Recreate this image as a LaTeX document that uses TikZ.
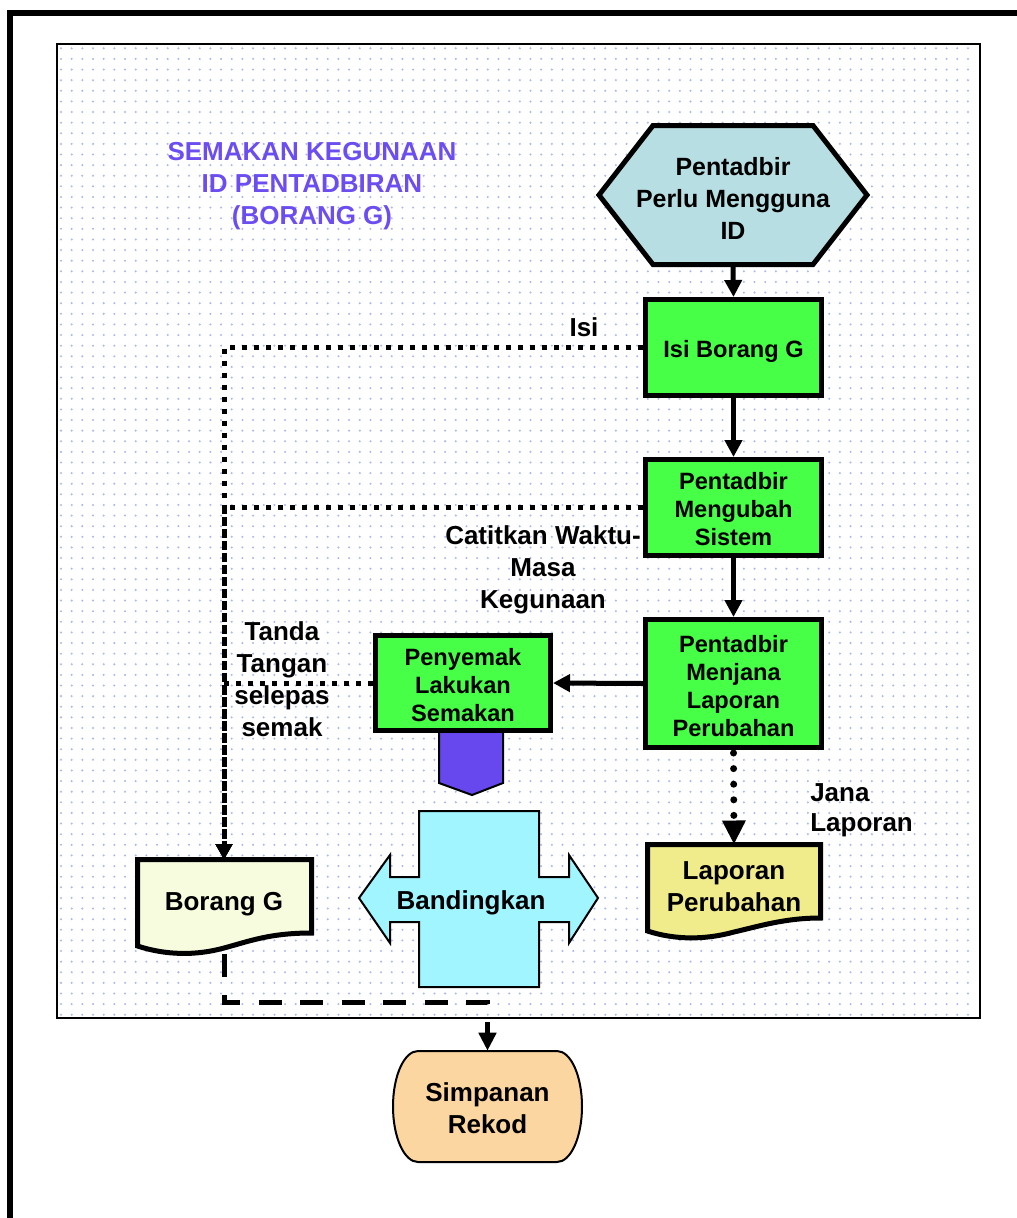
\documentclass[tikz,border=0pt]{standalone}
\usepackage{fontspec}
\setmainfont{Liberation Sans}
\usetikzlibrary{arrows.meta}
\pgfdeclarelayer{bg}
\pgfdeclarelayer{conn}
\pgfsetlayers{bg,conn,main}
\definecolor{gfill}{RGB}{70,255,70}
\definecolor{hexc}{RGB}{183,222,226}
\definecolor{purpc}{RGB}{102,72,238}
\definecolor{cyanc}{RGB}{160,245,255}
\definecolor{creamc}{RGB}{248,252,222}
\definecolor{yelc}{RGB}{240,236,140}
\definecolor{orc}{RGB}{252,214,160}
\definecolor{titlec}{RGB}{108,78,240}
\definecolor{dotc}{RGB}{172,184,232}
\newcommand\myBig{\fontsize{19.5}{24}\selectfont\bfseries}
\newcommand\myHex{\fontsize{18.7}{24}\selectfont\bfseries}
\newcommand\myBox{\fontsize{17.7}{21}\selectfont\bfseries}
\newcommand\myJana{\fontsize{19.5}{22.5}\selectfont\bfseries}
\tikzset{
  gbox/.style={draw, line width=3.75pt, fill=gfill, minimum width=132pt, inner sep=0pt},
  boxtext/.style={font=\myBox, align=center, inner sep=0pt, yshift=-1.5pt},
  txt/.style={font=\myBig, align=center, inner sep=0pt},
  conn/.style={line width=3.75pt, -{Triangle[length=12.75pt,width=12.75pt]}},
  sqdot/.style={line width=3.75pt, dash pattern=on 3.75pt off 5.25pt, -{Triangle[length=11.5pt,width=12pt]}},
  rdot/.style={line width=5.25pt, line cap=round, dash pattern=on 0pt off 11.7pt, shorten <=2.25pt, -{Triangle[length=18pt,width=16.5pt]}},
  dashconn/.style={line width=3.75pt, dash pattern=on 17.25pt off 13.875pt, shorten <=3.4pt, -{Triangle[length=13.5pt,width=12.75pt]}},
  thinb/.style={draw=black, line width=1.5pt, line join=miter},
  thickb/.style={draw=black, line width=3.75pt, line join=miter}
}
\begin{document}
\begin{tikzpicture}[x=0.75pt,y=-0.75pt]
\useasboundingbox (0,0) rectangle (1017,1218);
\begin{pgfonlayer}{bg}
  \fill[white] (0,0) rectangle (1017,1218);
  \foreach \j in {0,...,91} {
    \fill[dotc] \foreach \i in {0,...,85} {(61+\i*10.67, 48.3+\j*10.62) circle (0.85pt)};
  }
  \draw[line width=1.5pt] (57,44) rectangle (980,1018);
\end{pgfonlayer}
% outer frame
\draw[line width=4.5pt, line join=miter] (10,1218) -- (10,13) -- (1017,13);

% title
\node[txt, text=titlec] (title) at (312,186) {SEMAKAN KEGUNAAN\\ID PENTADBIRAN\\(BORANG G)};

% hexagon
\draw[thickb, fill=hexc] (599,195) -- (653,125.5) -- (813,125.5) -- (867,195) -- (813,264.5) -- (653,264.5) -- cycle;
\node[font=\myHex, align=center, inner sep=0pt, minimum height=99.75pt] (hex) at (733,198) {Pentadbir\\Perlu Mengguna\\ID};

% green boxes
\node[gbox, minimum height=72pt, label={[boxtext, yshift=-1.5pt]center:{Isi Borang G}}] (b1) at (733.5,347.5) {};
\node[gbox, minimum height=72pt, label={[boxtext]center:{Pentadbir\\Mengubah\\Sistem}}] (b2) at (733.5,507.5) {};
\node[gbox, minimum height=96pt, label={[boxtext, yshift=-0.4pt]center:{Pentadbir\\Menjana\\Laporan\\Perubahan}}] (b3) at (733.5,683.5) {};

% purple off-page marker under Penyemak
\draw[thinb, fill=purpc] (439,728) -- (503,728) -- (503,783) -- (472,795) -- (439,783) -- cycle;
\node[gbox, minimum width=131.25pt, minimum height=71.25pt, label={[boxtext]center:{Penyemak\\Lakukan\\Semakan}}] (peny) at (463,683) {};

% compare cross
\draw[thinb, fill=cyanc] (419,811) -- (539,811) -- (539,877) -- (569,877) -- (569,855) -- (598,898) -- (569,943) -- (569,922) -- (539,922) -- (539,987) -- (419,987) -- (419,922) -- (390,922) -- (390,943) -- (359,898) -- (390,855) -- (390,877) -- (419,877) -- cycle;
\node[txt] (cmp) at (471,903) {Bandingkan};

% Borang G document
\draw[thickb, fill=creamc] (137.5,946) -- (137.5,859.5) -- (311.5,859.5) -- (311.5,933) .. controls (270,933) and (250,941) .. (224,948) .. controls (195,956) and (165,955) .. (137.5,946) -- cycle;
\node[txt, minimum height=66.75pt, anchor=north] (borang) at (224,859.5) {Borang G};

% Laporan Perubahan document
\draw[thickb, fill=yelc] (647.5,931) -- (647.5,844.5) -- (820.5,844.5) -- (820.5,918) .. controls (785,918) and (760,926) .. (734,932) .. controls (705,940) and (675,940) .. (647.5,931) -- cycle;
\node[txt, minimum height=62.25pt, anchor=north] (laporan) at (734,844.5) {Laporan\\Perubahan};

% Simpanan Rekod
\draw[draw=black, line width=1.5pt, fill=orc] (418,1051) -- (557,1051) .. controls (570.8,1051) and (582,1075.85) .. (582,1106.5) .. controls (582,1137.15) and (570.8,1162) .. (557,1162) -- (418,1162) .. controls (404.2,1162) and (393,1137.15) .. (393,1106.5) .. controls (393,1075.85) and (404.2,1051) .. (418,1051) -- cycle;
\node[txt, minimum height=86.25pt] (simp) at (487.5,1108.5) {Simpanan\\Rekod};

% labels
\node[txt] (lIsi) at (584,327) {Isi};
\node[txt] (lCat) at (543,570) {Catitkan Waktu-\\Masa\\Kegunaan};
\node[txt] (lTanda) at (282,679) {Tanda\\Tangan\\selepas\\semak};
\node[font=\myJana, align=left, inner sep=0pt, anchor=west] (lJana) at (810,810) {Jana\\Laporan};

% connectors
\coordinate (dc) at (487.5,1002);
\begin{pgfonlayer}{conn}
  \draw[conn] (hex.south) -- (b1.north);
  \draw[conn] (b1.south) -- (b2.north);
  \draw[conn] (b2.south) -- (b3.north);
  \draw[conn] (b3.west) -- (peny.east);
  \draw[rdot] (b3.south) -- (laporan.north);
  \draw[sqdot] (b1.west) -| (borang.north);
  \draw[sqdot] (b2.west) -| (borang.north);
  \draw[sqdot] (peny.west) -| (borang.north);
  \draw[dashconn] (borang.south) |- (dc) -- (simp.north);
\end{pgfonlayer}
\end{tikzpicture}
\end{document}
